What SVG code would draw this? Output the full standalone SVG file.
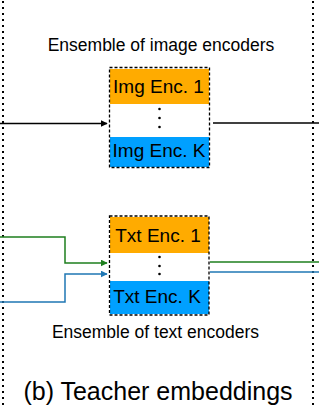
<svg xmlns="http://www.w3.org/2000/svg" width="319" height="416" viewBox="0 0 319 416">
<style>
text{font-family:"Liberation Sans",Arial,sans-serif;fill:#000}
.lbl{font-size:19px;text-anchor:middle}
.cap{font-size:17.5px;text-anchor:middle}
.border{stroke:#000;stroke-width:2;stroke-dasharray:2 4;fill:none}
.frame{stroke:#000;stroke-width:1.3;stroke-dasharray:3 2;fill:none}
.orange{fill:#FFAB00}
.blue{fill:#00A0FF}
.dot{fill:#000}
</style>
<defs>
<marker id="ak" viewBox="0 0 10 10" refX="9" refY="5" markerWidth="7" markerHeight="7" markerUnits="userSpaceOnUse" orient="auto"><path d="M0,0 L10,5 L0,10 z" fill="#000"/></marker>
<marker id="ag" viewBox="0 0 10 10" refX="9" refY="5" markerWidth="7" markerHeight="7" markerUnits="userSpaceOnUse" orient="auto"><path d="M0,0 L10,5 L0,10 z" fill="#1E7F1E"/></marker>
<marker id="ab" viewBox="0 0 10 10" refX="9" refY="5" markerWidth="7" markerHeight="7" markerUnits="userSpaceOnUse" orient="auto"><path d="M0,0 L10,5 L0,10 z" fill="#1F77B4"/></marker>
</defs>
<g id="borders">
<line class="border" x1="3" y1="1" x2="3" y2="406"/>
<line class="border" x1="313" y1="1" x2="313" y2="406"/>
</g>
<g id="connectors" fill="none">
<line x1="0" y1="123.5" x2="107" y2="123.5" stroke="#000" stroke-width="1.5" marker-end="url(#ak)"/>
<line x1="213" y1="123" x2="319" y2="123" stroke="#000" stroke-width="1.5"/>
<polyline points="0,237 65,237 65,263 107,263" stroke="#1E7F1E" stroke-width="1.5" marker-end="url(#ag)"/>
<polyline points="0,302 65,302 65,274 107,274" stroke="#1F77B4" stroke-width="1.5" marker-end="url(#ab)"/>
<line x1="210" y1="262" x2="319" y2="262" stroke="#1E7F1E" stroke-width="1.5"/>
<line x1="210" y1="272" x2="319" y2="272" stroke="#1F77B4" stroke-width="1.5"/>
</g>
<g id="img-ensemble">
<text class="cap" x="161" y="51">Ensemble of image encoders</text>
<rect class="orange" x="110" y="69" width="99" height="35"/>
<rect class="blue" x="110" y="137" width="99" height="30"/>
<circle class="dot" cx="159.5" cy="109" r="1.3"/>
<circle class="dot" cx="159.5" cy="118" r="1.3"/>
<circle class="dot" cx="159.5" cy="127" r="1.3"/>
<text class="lbl" x="158.5" y="93">Img Enc. 1</text>
<text class="lbl" x="159" y="157">Img Enc. K</text>
<rect class="frame" x="109.5" y="67.5" width="100" height="100"/>
</g>
<g id="txt-ensemble">
<rect class="orange" x="110" y="217" width="99" height="36"/>
<rect class="blue" x="110" y="281" width="99" height="33"/>
<circle class="dot" cx="159.5" cy="257" r="1.3"/>
<circle class="dot" cx="159.5" cy="266" r="1.3"/>
<circle class="dot" cx="159.5" cy="274" r="1.3"/>
<text class="lbl" x="158" y="242">Txt Enc. 1</text>
<text class="lbl" x="157" y="303">Txt Enc. K</text>
<rect class="frame" x="109.5" y="216" width="99.5" height="99"/>
<text class="cap" x="155.5" y="338">Ensemble of text encoders</text>
</g>
<g id="title">
<text x="158" y="400" font-size="25" text-anchor="middle">(b) Teacher embeddings</text>
</g>
</svg>
